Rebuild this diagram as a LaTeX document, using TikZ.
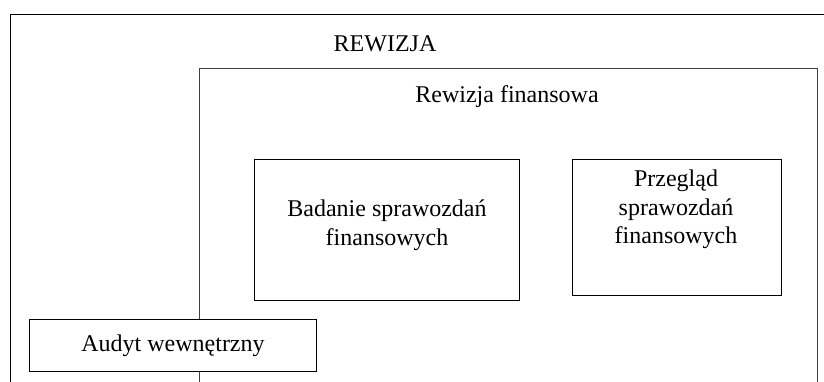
\documentclass[tikz,border=0pt]{standalone}
\usepackage{fontspec}
\setmainfont{Liberation Serif}
\begin{document}
\begin{tikzpicture}[x=1pt,y=-1pt,
  box/.style={draw,line width=1pt,inner sep=0pt,anchor=north west},
  lbl/.style={font=\fontsize{24}{28.5}\selectfont,align=center,inner sep=0pt}]
\useasboundingbox (0,0) rectangle (824,381);
\clip (0,0) rectangle (824,381);
\fill[white] (0,0) rectangle (824,381);
% outer frame (extends beyond the picture)
\node[box,minimum width=840pt,minimum height=400pt] (rew) at (10,14) {};
\node[lbl] (rewt) at (385,44) {REWIZJA};
% financial audit frame
\node[box,draw=black!75,minimum width=618pt,minimum height=340pt] (fin) at (199,68) {};
\node[lbl] (fint) at (507,97) {Rewizja finansowa};
% inner boxes
\node[box,fill=white,minimum width=265pt,minimum height=141pt] (bad) at (254,159) {};
\node[lbl] (badt) at (387,225) {Badanie sprawozdań\\finansowych};
\node[box,fill=white,minimum width=209pt,minimum height=136pt] (prz) at (572,159) {};
\node[lbl,anchor=north] (przt) at (676,170) {Przegląd\\sprawozdań\\finansowych};
\node[box,fill=white,minimum width=287pt,minimum height=52pt] (aud) at (29,319) {};
\node[lbl] (audt) at (aud.center) {Audyt wewnętrzny};
\end{tikzpicture}
\end{document}
